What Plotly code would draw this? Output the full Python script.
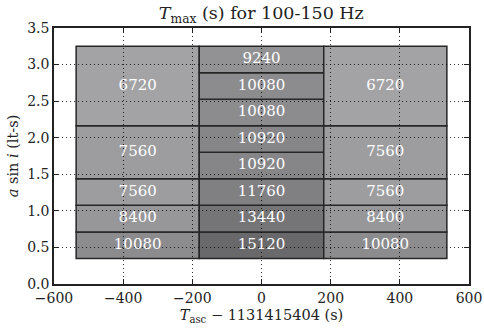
import plotly.graph_objects as go

# Column edges (x, seconds relative to 1131415404)
col_edges = [-536, -180, 180, 536]
# Row edges (a sin i, lt-s) for each column, and T_max values
left_edges = [0.35, 0.7125, 1.075, 1.4375, 2.1625, 3.25]
left_vals = [10080, 8400, 7560, 7560, 6720]
mid_edges = [0.35, 0.7125, 1.075, 1.4375, 1.8, 2.1625, 2.525, 2.8875, 3.25]
mid_vals = [15120, 13440, 11760, 10920, 10920, 10080, 10080, 9240]
right_edges = [0.35, 0.7125, 1.075, 1.4375, 2.1625, 3.25]
right_vals = [10080, 8400, 7560, 7560, 6720]

x_ticks = [-600, -400, -200, 0, 200, 400, 600]
y_ticks = [0.0, 0.5, 1.0, 1.5, 2.0, 2.5, 3.0, 3.5]

vmin, vmax = 6720, 15120


def grey(v):
    g = int(round(163 - (v - vmin) / (vmax - vmin) * 58))
    return f"rgb({g},{g},{g+3})"


FONT = "DejaVu Serif"
fig = go.Figure()
shapes = []
tx, ty, tt = [], [], []
columns = [(left_edges, left_vals), (mid_edges, mid_vals), (right_edges, right_vals)]
for ci, (edges, vals) in enumerate(columns):
    x0, x1 = col_edges[ci], col_edges[ci + 1]
    for ri, v in enumerate(vals):
        y0, y1 = edges[ri], edges[ri + 1]
        shapes.append(dict(type="rect", xref="x", yref="y", x0=x0, x1=x1, y0=y0, y1=y1,
                           fillcolor=grey(v), line=dict(color="#262626", width=1.5),
                           layer="below"))
        tx.append((x0 + x1) / 2)
        ty.append((y0 + y1) / 2)
        tt.append(str(v))

fig.add_trace(go.Scatter(x=tx, y=ty, text=tt, mode="text",
                         textfont=dict(family=FONT, size=15, color="white"),
                         hoverinfo="skip", showlegend=False))

axis_common = dict(showline=True, linecolor="#222", linewidth=1.5, mirror="allticks",
                   ticks="inside", ticklen=5, tickcolor="#222", tickwidth=1,
                   showgrid=True, gridcolor="rgba(0,0,0,0.8)", griddash="1px,3px", gridwidth=1,
                   zeroline=False, automargin=False,
                   tickfont=dict(family=FONT, size=14, color="#222"))

fig.update_layout(
    width=484, height=328,
    margin=dict(l=54, r=15, t=28, b=44),
    paper_bgcolor="white", plot_bgcolor="white",
    shapes=shapes,
    title=dict(text="<i>T</i><sub>max</sub> (s) for 100-150 Hz", x=0.54, xanchor="center",
               y=0.96, yanchor="middle", font=dict(family=FONT, size=17.5, color="#222")),
    xaxis=dict(range=[-600, 600], tickvals=x_ticks,
               ticktext=[("\u2212" + str(-t)) if t < 0 else str(t) for t in x_ticks],
               title=dict(text="<i>T</i><sub>asc</sub> \u2212 1131415404 (s)", standoff=5,
                          font=dict(family=FONT, size=14.5, color="#222")),
               **axis_common),
    yaxis=dict(range=[0, 3.5], tickvals=y_ticks, ticktext=[f"{t:.1f}" for t in y_ticks],
               title=dict(text="<i>a</i> sin <i>i</i> (lt-s)", standoff=5,
                          font=dict(family=FONT, size=14.5, color="#222")),
               **axis_common),
)

fig.write_html("out.html")
